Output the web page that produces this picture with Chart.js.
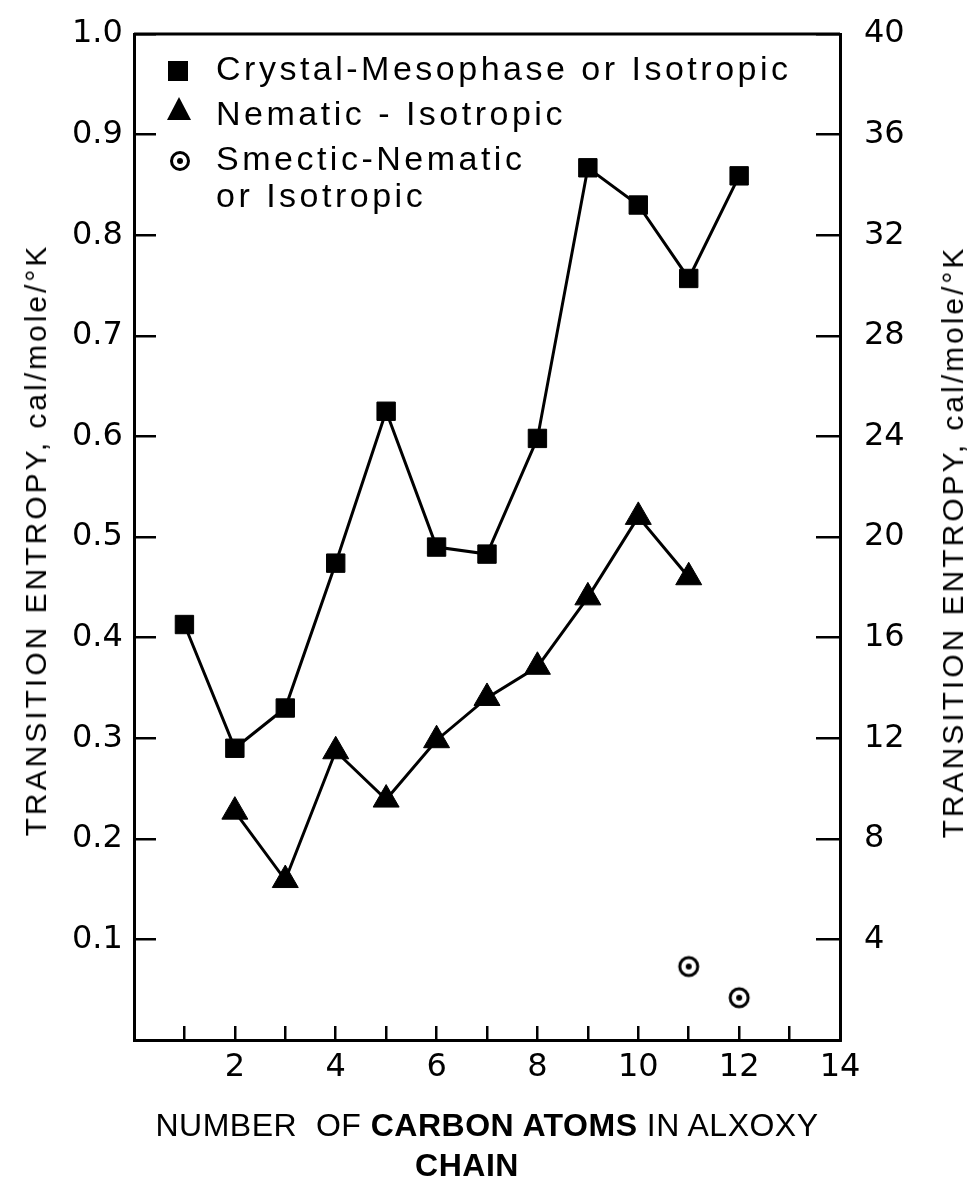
<!DOCTYPE html>
<html>
<head>
<meta charset="utf-8">
<script src="https://cdn.jsdelivr.net/npm/chart.js@4.4.1/dist/chart.umd.min.js"></script>
<style>
    body { margin: 0; background: #fff; }
    #wrap { position: relative; width: 973px; height: 1181px; }
    .txt { position: absolute; font-family: "Liberation Sans", Arial, sans-serif; color: #000; white-space: nowrap; line-height: 1; }
    .ytitle { font-size: 30px; letter-spacing: 3px; transform: translate(-50%, -50%) rotate(-90deg); }
    .leg { font-size: 34px; letter-spacing: 3.5px; left: 216px; }
    .xtitle { font-size: 32px; letter-spacing: 0.5px; transform: translateX(-50%); }
    .mk { position: absolute; }
</style>
</head>
<body>
<div id="wrap">
    <canvas id="myChart"></canvas>

    <!-- legend, sits inside the plot box -->
    <div class="mk" style="left:168px; top:61px; width:20px; height:20px; background:#000;"></div>
    <div class="mk" style="left:167px; top:97px; width:0; height:0; border-left:12px solid transparent; border-right:12px solid transparent; border-bottom:23px solid #000;"></div>
    <div class="mk" style="left:170px; top:151px; width:14px; height:14px; border:3px solid #000; border-radius:50%;"></div>
    <div class="mk" style="left:177px; top:158px; width:6px; height:6px; background:#000; border-radius:50%;"></div>
    <div class="txt leg" style="top:51px;">Crystal-Mesophase or Isotropic</div>
    <div class="txt leg" style="top:96px;">Nematic - Isotropic</div>
    <div class="txt leg" style="top:141px;">Smectic-Nematic</div>
    <div class="txt leg" style="top:178px;">or Isotropic</div>

    <!-- axis titles -->
    <div class="txt ytitle" style="left:36px; top:540px;">TRANSITION ENTROPY, cal/mole/°K</div>
    <div class="txt ytitle" style="left:953px; top:542px;">TRANSITION ENTROPY, cal/mole/°K</div>
    <div class="txt xtitle" style="left:487px; top:1109px;">NUMBER&nbsp; OF <b>CARBON ATOMS</b> IN ALXOXY</div>
    <div class="txt xtitle" style="left:467px; top:1149px;"><b>CHAIN</b></div>
</div>

<script>
const carbonAtoms = [1, 2, 3, 4, 5, 6, 7, 8, 9, 10, 11, 12];
const crystalMeso = [0.413, 0.290, 0.330, 0.474, 0.625, 0.490, 0.483, 0.598, 0.867, 0.830, 0.757, 0.859];

const nematicAtoms = [2, 3, 4, 5, 6, 7, 8, 9, 10, 11];
const nematicIso = [0.227, 0.159, 0.287, 0.239, 0.298, 0.340, 0.371, 0.440, 0.520, 0.460];

const smecticAtoms = [11, 12];
const smecticNem = [0.073, 0.042];

const xTicks = [2, 4, 6, 8, 10, 12, 14];

function toPoints(xs, ys) {
    return xs.map((x, i) => ({ x: x, y: ys[i] }));
}

// circle with a dot in the middle, used as the smectic marker
function dotCircle() {
    const c = document.createElement('canvas');
    c.width = 26;
    c.height = 26;
    const g = c.getContext('2d');
    g.strokeStyle = '#000';
    g.lineWidth = 3;
    g.beginPath();
    g.arc(13, 13, 9, 0, Math.PI * 2);
    g.stroke();
    g.fillStyle = '#000';
    g.beginPath();
    g.arc(13, 13, 3, 0, Math.PI * 2);
    g.fill();
    return c;
}

const topBorder = {
    id: 'topBorder',
    afterDraw(chart) {
        const a = chart.chartArea;
        const c = chart.ctx;
        c.save();
        c.strokeStyle = '#000';
        c.lineWidth = 3;
        c.beginPath();
        c.moveTo(a.left, a.top);
        c.lineTo(a.right, a.top);
        c.stroke();
        c.restore();
    }
};

const tickFont = { family: 'DejaVu Sans', size: 32 };

const ctx = document.getElementById('myChart').getContext('2d');

new Chart(ctx, {
    type: 'line',
    data: {
        datasets: [
            {
                label: 'Crystal-Mesophase or Isotropic',
                data: toPoints(carbonAtoms, crystalMeso),
                borderColor: '#000',
                backgroundColor: '#000',
                borderWidth: 3,
                pointStyle: 'rect',
                pointRadius: 13,
                pointBorderWidth: 1,
                tension: 0
            },
            {
                label: 'Nematic - Isotropic',
                data: toPoints(nematicAtoms, nematicIso),
                borderColor: '#000',
                backgroundColor: '#000',
                borderWidth: 3,
                pointStyle: 'triangle',
                pointRadius: 15,
                pointBorderWidth: 1,
                tension: 0
            },
            {
                label: 'Smectic-Nematic or Isotropic',
                data: toPoints(smecticAtoms, smecticNem),
                showLine: false,
                pointStyle: dotCircle(),
                pointRadius: 12
            }
        ]
    },
    options: {
        animation: false,
        responsive: true,
        maintainAspectRatio: false,
        layout: {
            padding: { left: 72, top: 34, right: 0, bottom: 0 }
        },
        plugins: {
            legend: { display: false },
            tooltip: { enabled: false }
        },
        scales: {
            x: {
                type: 'linear',
                min: 0,
                max: 14,
                afterFit: s => { s.height = 141; },
                border: { display: true, color: '#000', width: 3 },
                grid: { drawOnChartArea: false, tickLength: -14, color: '#000', lineWidth: 2.5 },
                ticks: {
                    stepSize: 1,
                    autoSkip: false,
                    maxRotation: 0,
                    padding: 22,
                    color: '#000',
                    font: tickFont,
                    callback: v => xTicks.includes(v) ? v : ''
                }
            },
            y: {
                position: 'left',
                min: 0,
                max: 1,
                afterFit: s => { s.width = 62; s.paddingTop = 0; s.paddingBottom = 0; },
                border: { display: true, color: '#000', width: 3 },
                grid: { drawOnChartArea: false, tickLength: -22, color: '#000', lineWidth: 2.5 },
                ticks: {
                    stepSize: 0.1,
                    crossAlign: 'far',
                    color: '#000',
                    font: tickFont,
                    callback: v => v === 0 ? '' : v.toFixed(1)
                }
            },
            y2: {
                position: 'right',
                min: 0,
                max: 40,
                // the big label padding would otherwise push the plot top down
                afterFit: s => { s.width = 133; s.paddingTop = 0; s.paddingBottom = 0; },
                border: { display: true, color: '#000', width: 3 },
                grid: { drawOnChartArea: false, tickLength: -24, color: '#000', lineWidth: 2.5 },
                ticks: {
                    stepSize: 4,
                    padding: 48,
                    color: '#000',
                    font: tickFont,
                    callback: v => v === 0 ? '' : v
                }
            }
        }
    },
    plugins: [topBorder]
});
</script>
</body>
</html>
